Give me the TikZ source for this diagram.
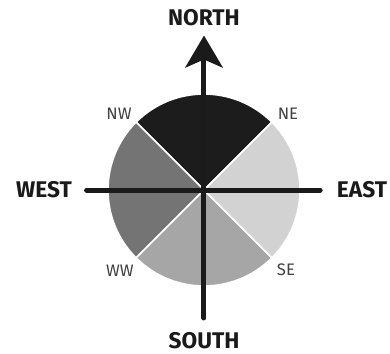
\documentclass[tikz,border=0pt]{standalone}
\usepackage{fontspec}
\setmainfont{Fira Sans}
\usetikzlibrary{arrows.meta}
\definecolor{inkcol}{RGB}{26,26,26}
\definecolor{northcol}{RGB}{28,28,28}
\definecolor{eastcol}{RGB}{209,210,209}
\definecolor{southcol}{RGB}{166,166,166}
\definecolor{westcol}{RGB}{116,116,116}
\tikzset{
  axis/.style={line width=3.75pt,line cap=round,draw=inkcol},
  pointer/.style={axis,-{Stealth[length=24pt,width=28pt,inset=6pt]}},
  sector/.style={draw=white,line width=1.2pt},
  heading/.style={font=\bfseries\fontsize{17}{20}\selectfont,text=inkcol,inner sep=0pt},
  corner/.style={font=\fontsize{12.5}{15}\selectfont,text=black!75,inner sep=0pt}
}

\begin{document}
\begin{tikzpicture}[x=0.75pt,y=0.75pt]
  \useasboundingbox (-204,-164) rectangle (186,190);
  % sectors
  \coordinate (c) at (0,0);
  \filldraw[sector,fill=northcol] (c) -- (45:96) arc[start angle=45,end angle=135,radius=96] -- cycle;
  \filldraw[sector,fill=westcol] (c) -- (135:96) arc[start angle=135,end angle=225,radius=96] -- cycle;
  \filldraw[sector,fill=southcol] (c) -- (225:96) arc[start angle=225,end angle=315,radius=96] -- cycle;
  \filldraw[sector,fill=eastcol] (c) -- (-45:96) arc[start angle=-45,end angle=45,radius=96] -- cycle;

  % headings
  \node[heading] (north) at (0,172) {NORTH};
  \node[heading] (south) at (0,-151) {SOUTH};
  \node[heading] (west) at (-160,0) {WEST};
  \node[heading] (east) at (158,0) {EAST};

  % corner labels
  \node[corner] (nw) at (-85,76) {NW};
  \node[corner] (ne) at (84,76) {NE};
  \node[corner] (ww) at (-84,-81) {WW};
  \node[corner] (se) at (82,-80) {SE};

  % axes
  \draw[pointer,shorten <=10.9pt,shorten >=6.75pt] (south) -- (north);
  \draw[axis,shorten <=10.9pt,shorten >=12.4pt] (west) -- (east);
\end{tikzpicture}
\end{document}
